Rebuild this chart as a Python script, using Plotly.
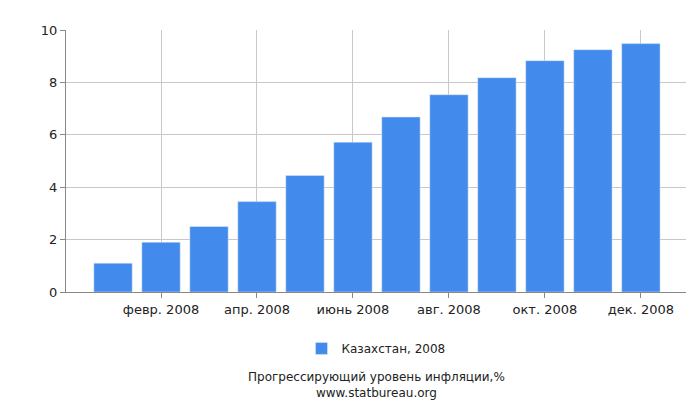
import plotly.graph_objects as go

months = ["янв. 2008","февр. 2008","март 2008","апр. 2008","май 2008","июнь 2008",
          "июль 2008","авг. 2008","сент. 2008","окт. 2008","нояб. 2008","дек. 2008"]
values = [1.1, 1.9, 2.5, 3.45, 4.45, 5.72, 6.68, 7.53, 8.18, 8.83, 9.25, 9.48]
series_name = "Казахстан, 2008"
y_ticks = [0, 2, 4, 6, 8, 10]

idx = list(range(len(months)))
fig = go.Figure(go.Bar(x=idx, y=values, name=series_name, marker_color="#428bed",
                       width=0.8, showlegend=True))
fig.update_layout(
    width=700, height=400, paper_bgcolor="white", plot_bgcolor="white",
    margin=dict(l=58, r=22, t=22, b=116, autoexpand=False),
    font=dict(family="DejaVu Sans", size=13, color="#222"),
    xaxis=dict(range=[-0.98, 11.94], tickvals=idx[1::2], ticktext=months[1::2],
               showgrid=True, gridcolor="#c8c8c8", showline=True, linecolor="#888",
               ticks="outside", ticklen=5, tickcolor="#888", zeroline=False),
    yaxis=dict(range=[0, 10], tickvals=y_ticks, showgrid=True, gridcolor="#c8c8c8",
               showline=True, linecolor="#888", ticks="outside", ticklen=5,
               tickcolor="#888", zeroline=False),
    legend=dict(orientation="h", x=0.5, xanchor="center", y=-0.16, yanchor="top",
                font=dict(size=12)),
    annotations=[dict(text="Прогрессирующий уровень инфляции,%<br>www.statbureau.org",
                      x=0.5, xref="paper", y=-0.29, yref="paper", yanchor="top",
                      showarrow=False, font=dict(size=12))],
)
fig.write_html("out.html")
